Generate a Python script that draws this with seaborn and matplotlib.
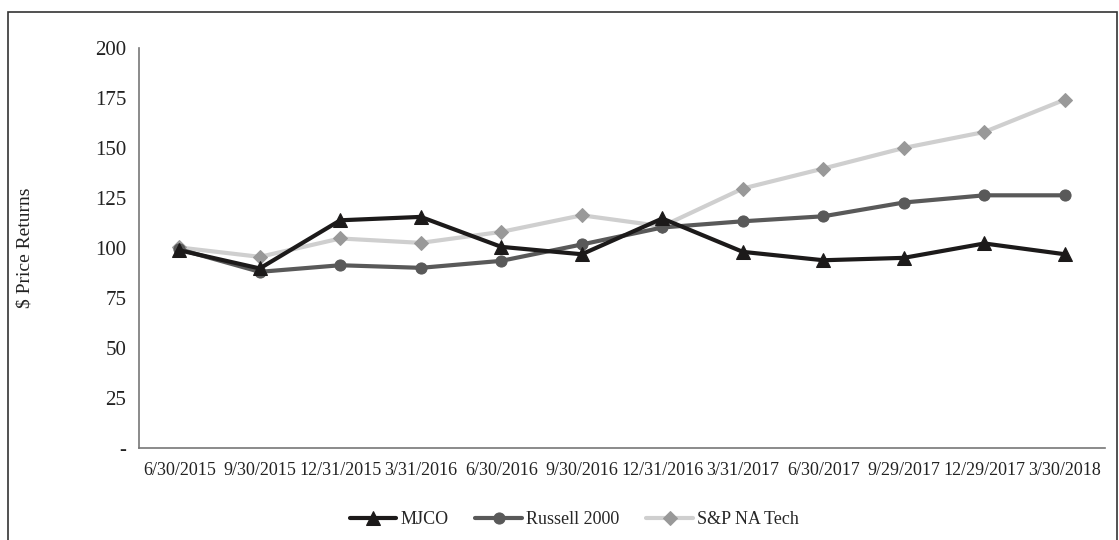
import numpy as np
import pandas as pd
import matplotlib
matplotlib.use("Agg")
import matplotlib.pyplot as plt
from matplotlib.patches import Rectangle
import seaborn as sns

dates = ["6/30/2015", "9/30/2015", "12/31/2015", "3/31/2016", "6/30/2016", "9/30/2016",
         "12/31/2016", "3/31/2017", "6/30/2017", "9/29/2017", "12/29/2017", "3/30/2018"]
mjco = [98.8, 89.7, 113.8, 115.5, 100.5, 96.8, 114.7, 98.0, 93.8, 95.0, 102.2, 96.8]
russell = [99.3, 88.0, 91.3, 90.0, 93.5, 101.7, 110.2, 113.3, 115.8, 122.7, 126.3, 126.3]
sp_tech = [100.2, 95.5, 104.7, 102.5, 108.0, 116.3, 110.8, 129.7, 139.7, 150.0, 158.0, 174.2]
series_names = ["MJCO", "Russell 2000", "S&P NA Tech"]
y_ticks = [0, 25, 50, 75, 100, 125, 150, 175, 200]
y_ticklabels = ["-", "25", "50", "75", "100", "125", "150", "175", "200"]

sns.set_style("white")
plt.rcParams["font.family"] = ["Liberation Serif", "DejaVu Serif"]

rows = []
for name, vals in zip(series_names, [mjco, russell, sp_tech]):
    for i, v in enumerate(vals):
        rows.append({"idx": i, "value": v, "series": name})
df = pd.DataFrame(rows)

fig = plt.figure(figsize=(11.19, 5.40), dpi=100)
ax = fig.add_axes([0.1242, 0.171, 0.8634, 0.740])

line_colors = {"MJCO": "#1c1a1a", "Russell 2000": "#595959", "S&P NA Tech": "#cfcfcf"}
marker_colors = {"MJCO": "#1c1a1a", "Russell 2000": "#595959", "S&P NA Tech": "#999999"}
markers = {"MJCO": "^", "Russell 2000": "o", "S&P NA Tech": "D"}
msizes = {"MJCO": 10, "Russell 2000": 8, "S&P NA Tech": 7}

handles = {}
for name in ["S&P NA Tech", "Russell 2000", "MJCO"]:
    sub = df[df["series"] == name]
    sns.lineplot(data=sub, x="idx", y="value", ax=ax, color=line_colors[name],
                 linewidth=3, marker=markers[name], markersize=msizes[name],
                 markerfacecolor=marker_colors[name], markeredgecolor=marker_colors[name],
                 label=name, legend=False)
    handles[name] = ax.lines[-1]

ax.set_xlim(-0.5, len(dates) - 0.5)
ax.set_ylim(0, 200)
ax.set_xticks(np.arange(len(dates)))
ax.set_xticklabels(dates, fontsize=13, color="#222222")
ax.set_xticks(np.arange(len(dates) + 1) - 0.5, minor=True)
ax.tick_params(axis="x", which="major", length=0, pad=10)
ax.tick_params(axis="x", which="minor", length=6, width=1, color="#666666", direction="out")
ax.set_yticks(y_ticks)
ax.set_yticklabels(y_ticklabels, fontsize=15, color="#222222")
ax.tick_params(axis="y", length=6, width=1, color="#666666", direction="out", pad=3)
ax.set_xlabel("")
ax.set_ylabel("$ Price Returns", fontsize=14, color="#222222", labelpad=44)

for s in ["top", "right"]:
    ax.spines[s].set_visible(False)
for s in ["left", "bottom"]:
    ax.spines[s].set_color("#777777")
    ax.spines[s].set_linewidth(1.2)

leg = fig.legend([handles[n] for n in series_names], series_names,
                 loc="center", bbox_to_anchor=(0.513, 0.038), ncol=3, frameon=False,
                 fontsize=13, handlelength=2.6, columnspacing=1.5, handletextpad=0.2)

fig.patches.append(Rectangle((8 / 1119, -0.05), (1117 - 8) / 1119, (540 - 12) / 540 + 0.05,
                             transform=fig.transFigure, fill=False, edgecolor="#333333",
                             linewidth=1.2))

fig.savefig("out.png", dpi=100)
